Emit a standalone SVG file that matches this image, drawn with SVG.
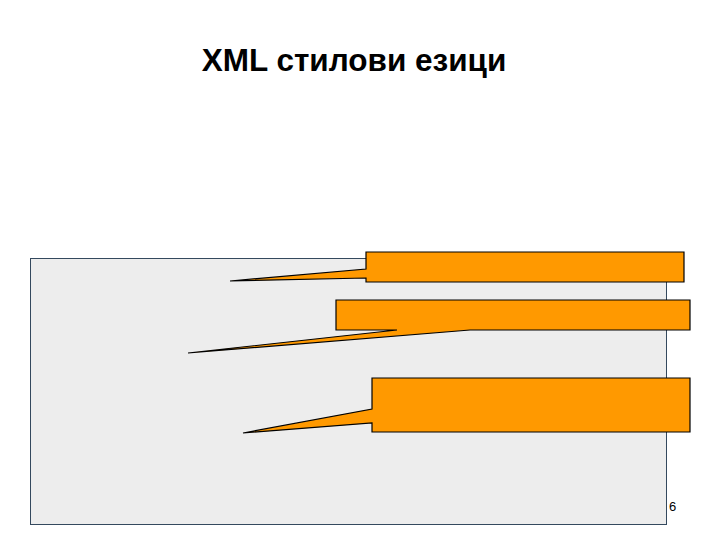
<svg xmlns="http://www.w3.org/2000/svg" width="720" height="540" viewBox="0 0 720 540">
<style>
.callout{fill:#FF9900;stroke:#000;stroke-width:1.2;stroke-linejoin:miter}
.title{font-family:"Liberation Sans",Arial,sans-serif;font-weight:bold;font-size:31.5px;fill:#000}
.num{font-family:"Liberation Sans",Arial,sans-serif;font-size:13px;fill:#000}
</style>
<rect width="720" height="540" fill="#fff"/>
<text class="title" x="354" y="71" text-anchor="middle">XML стилови езици</text>
<rect id="panel" x="30.5" y="258.5" width="636" height="266" fill="#EDEDED" stroke="#34495E" stroke-width="1"/>
<g id="callout1"><path class="callout" d="M366,252 H684 V282 H366 V278 L230,281 L366,269 Z"/></g>
<g id="callout2"><path class="callout" d="M336,300 H690 V330 H470 L188,353 L397,330 H336 Z"/></g>
<g id="callout3"><path class="callout" d="M372,378 H690 V432 H372 V423 L243,433 L372,409 Z"/></g>
<text class="num" x="669" y="511">6</text>
</svg>
